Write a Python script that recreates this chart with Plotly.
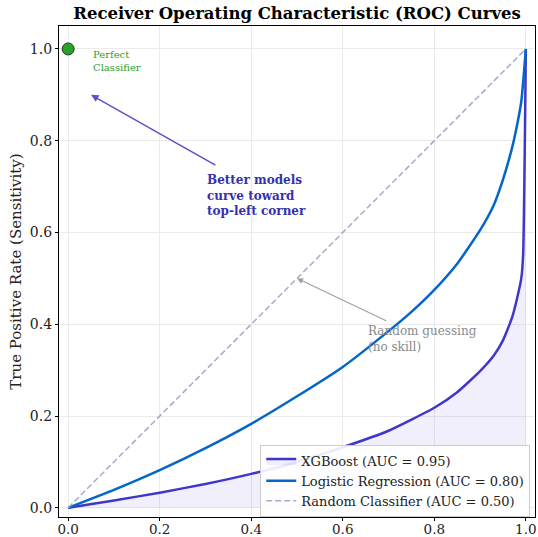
import plotly.graph_objects as go

# ---- data ----
xgb_fpr = [0, 0.1, 0.2, 0.3, 0.4, 0.5, 0.6, 0.7, 0.8, 0.85, 0.9, 0.93, 0.95, 0.97, 0.98, 0.99, 0.994, 1.0]
xgb_tpr = [0, 0.016, 0.033, 0.052, 0.074, 0.100, 0.132, 0.168, 0.218, 0.252, 0.298, 0.332, 0.365, 0.415, 0.453, 0.50, 0.55, 1.0]

lr_fpr = [0, 0.1, 0.2, 0.3, 0.4, 0.5, 0.6, 0.7, 0.75, 0.8, 0.85, 0.9, 0.93, 0.95, 0.97, 0.98, 0.99, 1.0]
lr_tpr = [0, 0.039, 0.082, 0.13, 0.183, 0.243, 0.307, 0.385, 0.427, 0.475, 0.532, 0.605, 0.66, 0.715, 0.785, 0.83, 0.885, 1.0]

rand_fpr = [0, 1]
rand_tpr = [0, 1]

series_names = ["XGBoost (AUC = 0.95)", "Logistic Regression (AUC = 0.80)", "Random Classifier (AUC = 0.50)"]
tick_vals = [0.0, 0.2, 0.4, 0.6, 0.8, 1.0]
tick_text = ["0.0", "0.2", "0.4", "0.6", "0.8", "1.0"]

PURPLE = "#3F37C9"
BLUE = "#0466C8"
FONT = "DejaVu Serif"

fig = go.Figure()

fig.add_trace(go.Scatter(
    x=xgb_fpr, y=xgb_tpr, mode="lines", name=series_names[0],
    line=dict(color=PURPLE, width=2.5, shape="spline", smoothing=0.5),
    fill="tozeroy", fillcolor="rgba(63,55,201,0.08)",
))
fig.add_trace(go.Scatter(
    x=lr_fpr, y=lr_tpr, mode="lines", name=series_names[1],
    line=dict(color=BLUE, width=2.5, shape="spline", smoothing=0.5),
))
fig.add_trace(go.Scatter(
    x=rand_fpr, y=rand_tpr, mode="lines", name=series_names[2],
    line=dict(color="#A9A9C6", width=1.5, dash="6px,3px"),
))
fig.add_trace(go.Scatter(
    x=[0], y=[1], mode="markers", showlegend=False,
    marker=dict(color="#2CA02C", size=12, line=dict(color="#1a3d1a", width=1)),
))

annotations = [
    dict(x=0.05, y=1.005, xref="x", yref="y", text="Perfect<br>Classifier", showarrow=False,
         xanchor="left", yanchor="top", align="left",
         font=dict(family=FONT, size=10, color="#2CA02C")),
    # arrow: better models
    dict(x=0.05, y=0.9, ax=0.325, ay=0.745, xref="x", yref="y", axref="x", ayref="y",
         text="", showarrow=True, arrowhead=2, arrowsize=1, arrowwidth=1.5, arrowcolor="#5A52C8"),
    dict(x=0.30, y=0.735, xref="x", yref="y", text="<b>Better models<br>curve toward<br>top-left corner</b>",
         showarrow=False, xanchor="left", yanchor="top", align="left",
         font=dict(family=FONT, size=12, color="#3530B0")),
    # arrow: random guessing
    dict(x=0.5, y=0.5, ax=0.698, ay=0.406, xref="x", yref="y", axref="x", ayref="y",
         text="", showarrow=True, arrowhead=2, arrowsize=1, arrowwidth=1.2, arrowcolor="#A0A0A0"),
    dict(x=0.65, y=0.405, xref="x", yref="y", text="Random guessing<br>(no skill)",
         showarrow=False, xanchor="left", yanchor="top", align="left",
         font=dict(family=FONT, size=12, color="#8A8A8A")),
]

fig.update_layout(
    width=538, height=537,
    margin=dict(l=59, r=3, t=26, b=20, autoexpand=False),
    paper_bgcolor="white", plot_bgcolor="white",
    font=dict(family=FONT, size=13, color="#222"),
    title=dict(text="<b>Receiver Operating Characteristic (ROC) Curves</b>",
               x=(59 + 535) / 2 / 538, xanchor="center", y=1 - 13 / 537, yanchor="middle",
               font=dict(family=FONT, size=16.5, color="black")),
    showlegend=True,
    legend=dict(x=0.99, y=0.0, xanchor="right", yanchor="bottom",
                bgcolor="rgba(255,255,255,0.9)", bordercolor="#CCCCCC", borderwidth=1,
                font=dict(family=FONT, size=13, color="#222"), itemwidth=30,
                tracegroupgap=0),
    annotations=annotations,
)

fig.update_xaxes(
    range=[-0.02, 1.02], tickvals=tick_vals, ticktext=tick_text, automargin=False,
    showgrid=True, gridcolor="#EBEBEB", gridwidth=1, zeroline=False,
    showline=True, linecolor="black", linewidth=1.2, mirror=True,
    ticks="outside", ticklen=3, tickcolor="black", ticklabelstandoff=-3,
    tickfont=dict(family=FONT, size=13.5, color="#222"),
)
fig.update_yaxes(
    range=[-0.02, 1.05], tickvals=tick_vals, ticktext=tick_text, automargin=False,
    showgrid=True, gridcolor="#EBEBEB", gridwidth=1, zeroline=False,
    showline=True, linecolor="black", linewidth=1.2, mirror=True,
    ticks="outside", ticklen=3, tickcolor="black",
    tickfont=dict(family=FONT, size=14, color="#222"),
    title=dict(text="True Positive Rate (Sensitivity)", standoff=4,
               font=dict(family=FONT, size=15, color="#222")),
)

fig.write_html("out.html")
